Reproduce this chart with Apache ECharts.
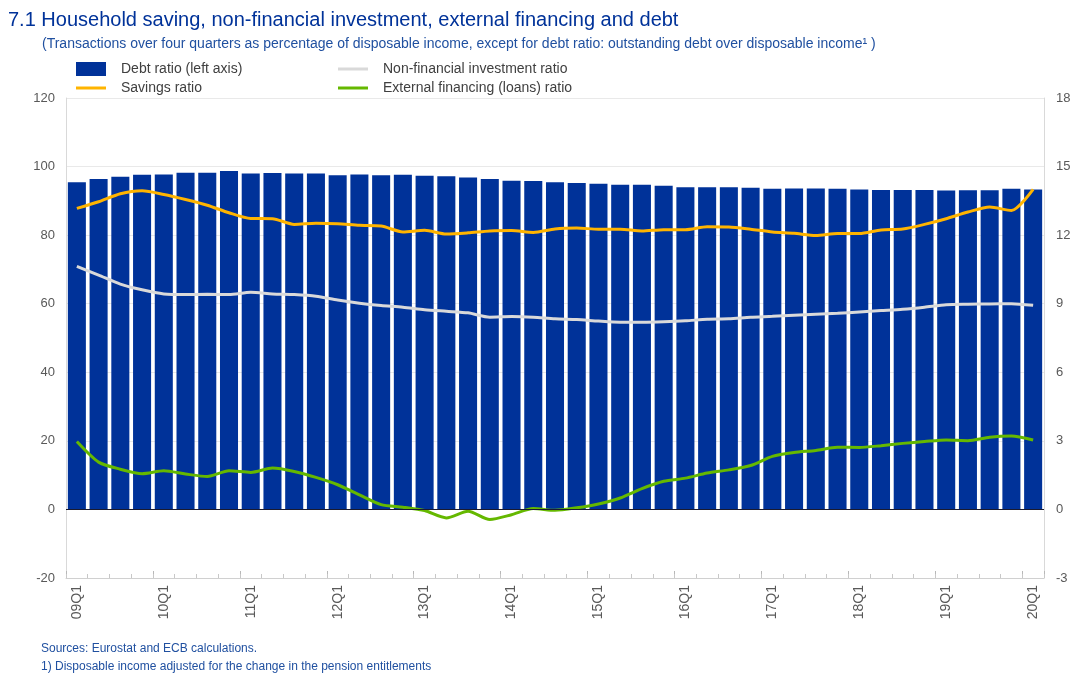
<!DOCTYPE html>
<html>
<head>
<meta charset="utf-8">
<script src="https://cdn.jsdelivr.net/npm/echarts@6/dist/echarts.min.js"></script>
<style>
html,body{margin:0;padding:0;background:#fff;}
#chart{width:1074px;height:675px;}
</style>
</head>
<body>
<div id="chart"></div>
<script>
const categories = ['09Q1','09Q2','09Q3','09Q4','10Q1','10Q2','10Q3','10Q4','11Q1','11Q2','11Q3','11Q4',
  '12Q1','12Q2','12Q3','12Q4','13Q1','13Q2','13Q3','13Q4','14Q1','14Q2','14Q3','14Q4',
  '15Q1','15Q2','15Q3','15Q4','16Q1','16Q2','16Q3','16Q4','17Q1','17Q2','17Q3','17Q4',
  '18Q1','18Q2','18Q3','18Q4','19Q1','19Q2','19Q3','19Q4','20Q1'];

// Debt ratio (left axis)
const debtRatio = [95.4, 96.4, 97.0, 97.6, 97.7, 98.2, 98.2, 98.7, 98.0, 98.1, 98.0, 98.0,
  97.5, 97.7, 97.5, 97.6, 97.3, 97.2, 96.8, 96.4, 95.9, 95.8, 95.4, 95.2,
  95.0, 94.7, 94.7, 94.4, 94.0, 94.0, 94.0, 93.8, 93.5, 93.6, 93.6, 93.5,
  93.3, 93.2, 93.2, 93.2, 93.0, 93.1, 93.1, 93.5, 93.3];

// Savings ratio (right axis)
const savingsRatio = [13.17, 13.46, 13.81, 13.94, 13.78, 13.56, 13.31, 12.98, 12.73, 12.72, 12.47, 12.52,
  12.50, 12.43, 12.40, 12.14, 12.21, 12.05, 12.10, 12.18, 12.20, 12.12, 12.27, 12.31,
  12.26, 12.26, 12.18, 12.24, 12.24, 12.37, 12.36, 12.26, 12.14, 12.08, 11.98, 12.07,
  12.07, 12.23, 12.27, 12.47, 12.72, 13.01, 13.23, 13.08, 14.0];

// Non-financial investment ratio (right axis)
const nfiRatio = [10.63, 10.25, 9.86, 9.61, 9.43, 9.40, 9.41, 9.40, 9.50, 9.43, 9.40, 9.33,
  9.16, 9.02, 8.92, 8.85, 8.74, 8.67, 8.60, 8.41, 8.44, 8.41, 8.34, 8.31,
  8.24, 8.19, 8.19, 8.21, 8.25, 8.32, 8.34, 8.41, 8.45, 8.50, 8.54, 8.58,
  8.64, 8.70, 8.76, 8.85, 8.96, 8.98, 8.99, 9.00, 8.93];

// External financing (loans) ratio (right axis)
const loansRatio = [2.97, 2.07, 1.76, 1.56, 1.69, 1.55, 1.44, 1.69, 1.62, 1.81, 1.66, 1.40,
  1.08, 0.64, 0.21, 0.10, -0.05, -0.37, -0.08, -0.44, -0.23, 0.04, -0.04, 0.07,
  0.24, 0.50, 0.91, 1.23, 1.37, 1.59, 1.73, 1.92, 2.32, 2.49, 2.58, 2.72,
  2.71, 2.79, 2.89, 2.97, 3.04, 3.01, 3.16, 3.21, 3.04];

const leftTicks = {min: -20, max: 120, interval: 20};
const rightTicks = {min: -3, max: 18, interval: 3};

const FONT = "'Liberation Sans', Arial, sans-serif";
const lineIcon = 'path://M0 0H30V3H0Z';

const chart = echarts.init(document.getElementById('chart'), null, {renderer: 'canvas'});
chart.setOption({
  animation: false,
  backgroundColor: '#ffffff',
  textStyle: {fontFamily: FONT},
  title: [
    {text: '7.1 Household saving, non-financial investment, external financing and debt',
     left: 8, top: 10, padding: 0,
     textStyle: {fontSize: 20, fontWeight: 'normal', color: '#003299', fontFamily: FONT}},
    {text: '(Transactions over four quarters as percentage of disposable income, except for debt ratio: outstanding debt over disposable income\u00B9 )',
     left: 42, top: 37, padding: 0,
     textStyle: {fontSize: 14, fontWeight: 'normal', color: '#2050a0', fontFamily: FONT}},
    {text: 'Sources: Eurostat and ECB calculations.\n1) Disposable income adjusted for the change in the pension entitlements',
     left: 41, top: 640, padding: 0,
     textStyle: {fontSize: 12, fontWeight: 'normal', color: '#2050a0', lineHeight: 18, fontFamily: FONT}}
  ],
  legend: [
    {orient: 'vertical', left: 76, top: 62, padding: 0, itemWidth: 30, itemHeight: 14, itemGap: 5,
     textStyle: {fontSize: 14, color: '#404040', padding: [0, 0, 0, 10], fontFamily: FONT},
     data: [{name: 'Debt ratio (left axis)', icon: 'rect'}, {name: 'Savings ratio', icon: lineIcon}]},
    {orient: 'vertical', left: 338, top: 62, padding: 0, itemWidth: 30, itemHeight: 14, itemGap: 5,
     textStyle: {fontSize: 14, color: '#404040', padding: [0, 0, 0, 10], fontFamily: FONT},
     data: [{name: 'Non-financial investment ratio', icon: lineIcon}, {name: 'External financing (loans) ratio', icon: lineIcon}]}
  ],
  grid: {left: 66, right: 30, top: 98, bottom: 97, containLabel: false},
  xAxis: [
    {type: 'category', data: categories, position: 'bottom',
     axisLine: {show: true, onZero: false, lineStyle: {color: '#d0d0d0'}},
     axisTick: {show: true, inside: true, length: 7, interval: 3, lineStyle: {color: '#b8b8b8'}},
     axisLabel: {interval: 3, rotate: 90, color: '#595959', fontSize: 14, margin: 7, fontFamily: FONT},
     splitLine: {show: false}},
    {type: 'category', data: categories, position: 'bottom',
     axisLine: {show: false, onZero: false},
     axisTick: {show: true, inside: true, length: 4, interval: 0, lineStyle: {color: '#c8c8c8'}},
     axisLabel: {show: false}, splitLine: {show: false}}
  ],
  yAxis: [
    {type: 'value', min: leftTicks.min, max: leftTicks.max, interval: leftTicks.interval, position: 'left',
     axisLine: {show: true, lineStyle: {color: '#d9d9d9'}}, axisTick: {show: false},
     axisLabel: {color: '#595959', fontSize: 13, margin: 11, fontFamily: FONT},
     splitLine: {show: true, lineStyle: {color: '#e9e9e9'}}},
    {type: 'value', min: rightTicks.min, max: rightTicks.max, interval: rightTicks.interval, position: 'right',
     axisLine: {show: true, lineStyle: {color: '#d9d9d9'}}, axisTick: {show: false},
     axisLabel: {color: '#595959', fontSize: 13, margin: 12, fontFamily: FONT},
     splitLine: {show: false}}
  ],
  series: [
    {name: 'Debt ratio (left axis)', type: 'bar', data: debtRatio, xAxisIndex: 0, yAxisIndex: 0,
     barCategoryGap: '17%', itemStyle: {color: '#003299'}, color: '#003299',
     markLine: {silent: true, symbol: 'none', label: {show: false},
       lineStyle: {color: '#1a1a2e', width: 1, type: 'solid'}, data: [{yAxis: 0}]}},
    {name: 'Non-financial investment ratio', type: 'line', data: nfiRatio, yAxisIndex: 1,
     symbol: 'none', smooth: 0.25, color: '#d9d9d9', itemStyle: {color: '#d9d9d9'},
     lineStyle: {color: '#d9d9d9', width: 3}},
    {name: 'Savings ratio', type: 'line', data: savingsRatio, yAxisIndex: 1,
     symbol: 'none', smooth: 0.25, color: '#ffb400', itemStyle: {color: '#ffb400'},
     lineStyle: {color: '#ffb400', width: 3}},
    {name: 'External financing (loans) ratio', type: 'line', data: loansRatio, yAxisIndex: 1,
     symbol: 'none', smooth: 0.25, color: '#65b800', itemStyle: {color: '#65b800'},
     lineStyle: {color: '#65b800', width: 3}}
  ]
});
</script>
</body>
</html>
